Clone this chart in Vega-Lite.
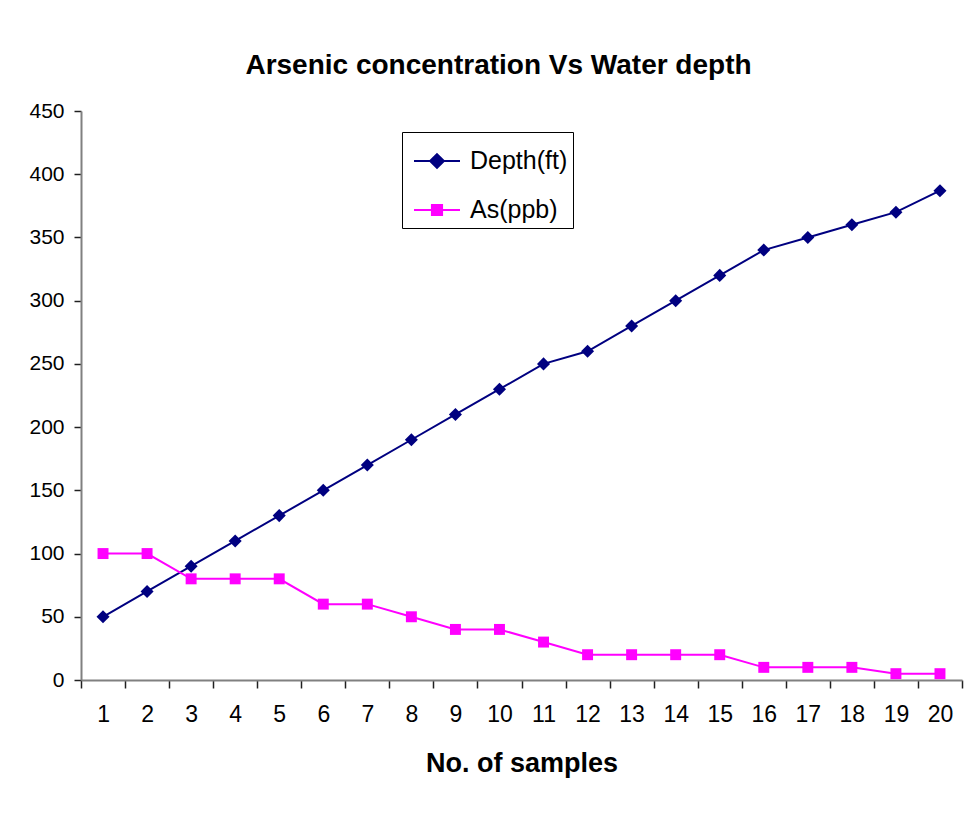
{
  "$schema": "https://vega.github.io/schema/vega-lite/v6.json",
  "autosize": "none",
  "width": 881,
  "height": 569,
  "padding": {"left": 81, "top": 111, "right": 16, "bottom": 143},
  "background": "white",
  "title": {
    "text": "Arsenic concentration Vs Water depth",
    "font": "Liberation Sans, Arial, sans-serif",
    "fontSize": 28,
    "fontWeight": "bold",
    "color": "black",
    "anchor": "middle",
    "dx": -23,
    "offset": 20
  },
  "data": {
    "values": [
      {"sample": "1", "series": "Depth(ft)", "value": 50},
      {"sample": "2", "series": "Depth(ft)", "value": 70},
      {"sample": "3", "series": "Depth(ft)", "value": 90},
      {"sample": "4", "series": "Depth(ft)", "value": 110},
      {"sample": "5", "series": "Depth(ft)", "value": 130},
      {"sample": "6", "series": "Depth(ft)", "value": 150},
      {"sample": "7", "series": "Depth(ft)", "value": 170},
      {"sample": "8", "series": "Depth(ft)", "value": 190},
      {"sample": "9", "series": "Depth(ft)", "value": 210},
      {"sample": "10", "series": "Depth(ft)", "value": 230},
      {"sample": "11", "series": "Depth(ft)", "value": 250},
      {"sample": "12", "series": "Depth(ft)", "value": 260},
      {"sample": "13", "series": "Depth(ft)", "value": 280},
      {"sample": "14", "series": "Depth(ft)", "value": 300},
      {"sample": "15", "series": "Depth(ft)", "value": 320},
      {"sample": "16", "series": "Depth(ft)", "value": 340},
      {"sample": "17", "series": "Depth(ft)", "value": 350},
      {"sample": "18", "series": "Depth(ft)", "value": 360},
      {"sample": "19", "series": "Depth(ft)", "value": 370},
      {"sample": "20", "series": "Depth(ft)", "value": 387},
      {"sample": "1", "series": "As(ppb)", "value": 100},
      {"sample": "2", "series": "As(ppb)", "value": 100},
      {"sample": "3", "series": "As(ppb)", "value": 80},
      {"sample": "4", "series": "As(ppb)", "value": 80},
      {"sample": "5", "series": "As(ppb)", "value": 80},
      {"sample": "6", "series": "As(ppb)", "value": 60},
      {"sample": "7", "series": "As(ppb)", "value": 60},
      {"sample": "8", "series": "As(ppb)", "value": 50},
      {"sample": "9", "series": "As(ppb)", "value": 40},
      {"sample": "10", "series": "As(ppb)", "value": 40},
      {"sample": "11", "series": "As(ppb)", "value": 30},
      {"sample": "12", "series": "As(ppb)", "value": 20},
      {"sample": "13", "series": "As(ppb)", "value": 20},
      {"sample": "14", "series": "As(ppb)", "value": 20},
      {"sample": "15", "series": "As(ppb)", "value": 20},
      {"sample": "16", "series": "As(ppb)", "value": 10},
      {"sample": "17", "series": "As(ppb)", "value": 10},
      {"sample": "18", "series": "As(ppb)", "value": 10},
      {"sample": "19", "series": "As(ppb)", "value": 5},
      {"sample": "20", "series": "As(ppb)", "value": 5}
    ]
  },
  "encoding": {
    "x": {
      "field": "sample",
      "type": "ordinal",
      "sort": null,
      "scale": {"paddingInner": 0, "paddingOuter": 0},
      "axis": {
        "title": "No. of samples",
        "labelAngle": 0,
        "tickBand": "extent",
        "domainColor": "#808080",
        "domainWidth": 2,
        "tickColor": "#202020",
        "tickWidth": 1.5,
        "tickSize": 8,
        "labelFont": "Liberation Sans, Arial, sans-serif",
        "labelFontSize": 23,
        "labelColor": "black",
        "labelPadding": 15,
        "titleFont": "Liberation Sans, Arial, sans-serif",
        "titleFontSize": 27,
        "titleFontWeight": "bold",
        "titleColor": "black",
        "titlePadding": 24
      }
    },
    "y": {
      "field": "value",
      "type": "quantitative",
      "scale": {"domain": [0, 450], "nice": false},
      "axis": {
        "title": null,
        "values": [0, 50, 100, 150, 200, 250, 300, 350, 400, 450],
        "grid": false,
        "domainColor": "#808080",
        "domainWidth": 2,
        "tickColor": "#202020",
        "tickWidth": 1.5,
        "tickSize": 7,
        "labelFont": "Liberation Sans, Arial, sans-serif",
        "labelFontSize": 21,
        "labelColor": "black",
        "labelPadding": 10
      }
    },
    "color": {
      "field": "series",
      "type": "nominal",
      "scale": {"domain": ["Depth(ft)", "As(ppb)"], "range": ["#000080", "#FF00FF"]},
      "legend": {
        "title": null,
        "orient": "none",
        "legendX": 321,
        "legendY": 21,
        "direction": "vertical",
        "strokeColor": "black",
        "fillColor": "white",
        "padding": 5,
        "symbolOffset": 6,
        "symbolSize": 2116,
        "rowPadding": 12,
        "labelOffset": 9,
        "labelFont": "Liberation Sans, Arial, sans-serif",
        "labelFontSize": 25,
        "labelColor": "black",
        "encode": {
          "symbols": {
            "update": {
              "shape": {"signal": "datum.value === 'Depth(ft)' ? 'M-1,0H1M0,-0.3L0.3,0L0,0.3L-0.3,0Z' : 'M-1,0H1M-0.22,-0.22H0.22V0.22H-0.22Z'"},
              "fill": {"signal": "datum.value === 'Depth(ft)' ? '#000080' : '#FF00FF'"},
              "stroke": {"signal": "datum.value === 'Depth(ft)' ? '#000080' : '#FF00FF'"},
              "strokeWidth": {"value": 2},
              "opacity": {"value": 1},
              "fillOpacity": {"value": 1},
              "strokeOpacity": {"value": 1}
            }
          }
        }
      }
    }
  },
  "layer": [
    {
      "mark": {"type": "line", "strokeWidth": 2}
    },
    {
      "transform": [{"filter": "datum.series === 'Depth(ft)'"}],
      "mark": {"type": "point", "shape": "diamond", "filled": true, "size": 170, "opacity": 1}
    },
    {
      "transform": [{"filter": "datum.series === 'As(ppb)'"}],
      "mark": {"type": "point", "shape": "square", "filled": true, "size": 120, "opacity": 1}
    }
  ],
  "config": {
    "view": {"stroke": null}
  }
}
